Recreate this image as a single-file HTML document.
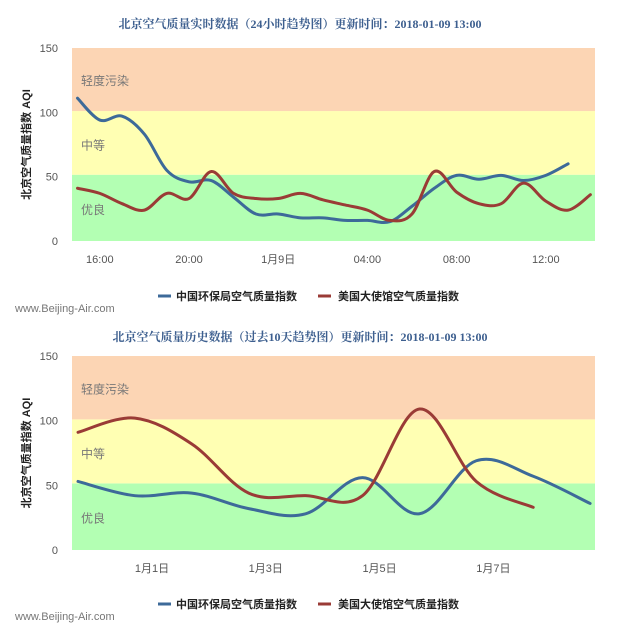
<!DOCTYPE html>
<html><head><meta charset="utf-8"><style>
body{margin:0;background:#fff;width:640px;height:632px;overflow:hidden;font-family:"Liberation Sans","Noto Sans CJK SC",sans-serif}
</style></head><body>
<svg id="s" width="640" height="632" xmlns="http://www.w3.org/2000/svg"></svg>
<script>
// Chart 1 data (hourly, starting 15:00)
const c1Blue=[111,94,97,83,55,46,47,34,21,21,18,18,16,16,15,27,41,51,48,51,47,51,60];
const c1Red=[41,37,29,24,37,33,54,37,33,33,37,32,28,24,16,21,54,38,29,29,45,31,24,36];
const c1Ticks=["16:00","20:00","1月9日","04:00","08:00","12:00"];
const c1TickIdx=[1,5,9,13,17,21];
// Chart 2 data (daily)
const c2Blue=[53,42,44,32,28,56,28,69,57,36];
const c2Red=[91,102,82,44,42,42,109,53,33];
const c2Ticks=["1月1日","1月3日","1月5日","1月7日"];
const c2TickIdx=[1.3,3.3,5.3,7.3];
const yTicks=[0,50,100,150];
const bands=[[0,51.5,"#b3ffb3","优良",25],[51.5,101,"#ffffb3","中等",75],[101,150,"#fcd5b4","轻度污染",125]];

const svg=document.getElementById('s');
const NS="http://www.w3.org/2000/svg";
function mk(tag,attrs,parent,text){const e=document.createElementNS(NS,tag);for(const k in attrs)e.setAttribute(k,attrs[k]);if(text!==undefined)e.textContent=text;(parent||svg).appendChild(e);return e;}
function path(pts){let d="M"+pts[0][0]+","+pts[0][1];for(let i=0;i<pts.length-1;i++){const p0=pts[i-1]||pts[i],p1=pts[i],p2=pts[i+1],p3=pts[i+2]||p2;const t=0.17;
d+=" C"+(p1[0]+(p2[0]-p0[0])*t)+","+(p1[1]+(p2[1]-p0[1])*t)+" "+(p2[0]-(p3[0]-p1[0])*t)+","+(p2[1]-(p3[1]-p1[1])*t)+" "+p2[0]+","+p2[1];}return d;}

function chart(g,o){
  const y=v=>o.y0-(v/150)*(o.y0-o.y150);
  const x=i=>o.x0+i*o.dx;
  const t=mk('text',{x:300,y:o.titleY,'text-anchor':'middle','font-size':12,'font-weight':'bold',fill:'#3d5f8f','font-family':'"Liberation Serif","Noto Serif CJK SC",serif'},g,o.title);
  
  bands.forEach(b=>{const r=mk('rect',{x:72,y:y(b[1]),width:523,height:y(b[0])-y(b[1]),fill:b[2]},g);
    
    const l=mk('text',{x:81,y:y(b[4])+5,'font-size':12,fill:'#777'},g,b[3]);
    });
  yTicks.forEach(v=>{const l=mk('text',{x:58,y:y(v)+4,'text-anchor':'end','font-size':11,fill:'#555'},g,String(v));
    });
  o.ticks.forEach((s,k)=>{const l=mk('text',{x:x(o.tickIdx[k]),y:o.y0+22,'text-anchor':'middle','font-size':11,fill:'#555'},g,s);
    });
  const at=mk('text',{transform:`translate(30,${(o.y0+o.y150)/2}) rotate(-90)`,'text-anchor':'middle','font-size':11,fill:'#222','font-weight':'bold'},g,'北京空气质量指数 AQI');
  
  [[o.blue,'#3d6a99','blue-series'],[o.red,'#9a3b36','red-series']].forEach(s=>{
    const p=mk('path',{d:path(s[0].map((v,i)=>[x(i),y(v)])),fill:'none',stroke:s[1],'stroke-width':3,'stroke-linecap':'round'},g);
    });
  const lg=mk('g',{},g);
  mk('line',{x1:158,x2:171,y1:o.legY,y2:o.legY,stroke:'#3d6a99','stroke-width':3},lg);
  mk('text',{x:176,y:o.legY+4,'font-size':11,fill:'#222','font-weight':'bold'},lg,'中国环保局空气质量指数');
  mk('line',{x1:318,x2:331,y1:o.legY,y2:o.legY,stroke:'#9a3b36','stroke-width':3},lg);
  mk('text',{x:338,y:o.legY+4,'font-size':11,fill:'#222','font-weight':'bold'},lg,'美国大使馆空气质量指数');
  const w=mk('text',{x:15,y:o.legY+16,'font-size':11,fill:'#777'},g,'www.Beijing-Air.com');
  
}
const g1=mk('g',{});
chart(g1,{title:'北京空气质量实时数据（24小时趋势图）更新时间：2018-01-09 13:00',titleY:28,y0:241,y150:48,x0:77.5,dx:22.3,blue:c1Blue,red:c1Red,ticks:c1Ticks,tickIdx:c1TickIdx,legY:296});
const g2=mk('g',{});
chart(g2,{title:'北京空气质量历史数据（过去10天趋势图）更新时间：2018-01-09 13:00',titleY:341,y0:550,y150:356,x0:78,dx:56.9,blue:c2Blue,red:c2Red,ticks:c2Ticks,tickIdx:c2TickIdx,legY:604});
</script>
</body></html>
